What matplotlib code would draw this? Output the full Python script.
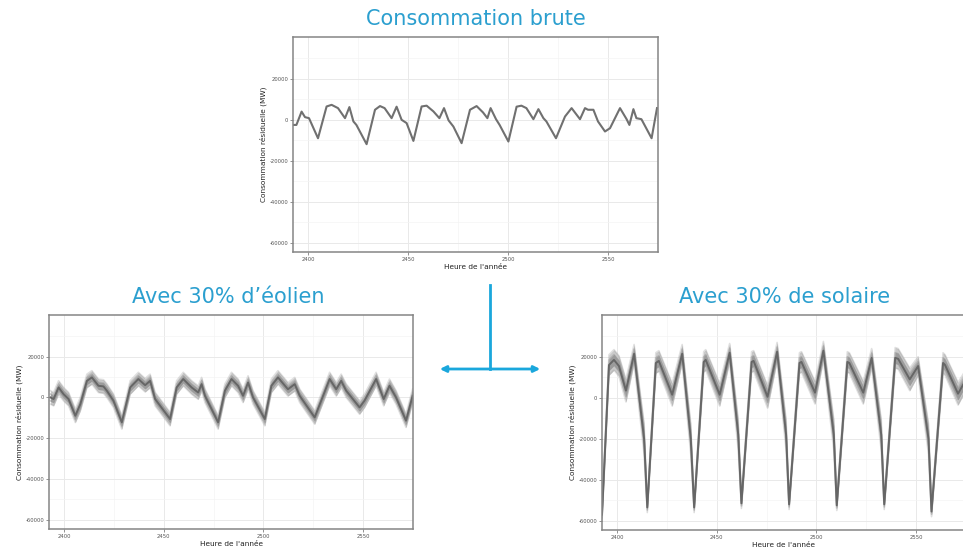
import matplotlib
matplotlib.use("Agg")
import matplotlib.pyplot as plt
import numpy as np
from matplotlib.patches import FancyArrowPatch
from matplotlib.lines import Line2D

# --- data (hour of year, MW) ---
brute_hours = [2392.5, 2394.2, 2396.8, 2398.5, 2400.5, 2405.0, 2409.3, 2411.8, 2415.0, 2418.5,
               2420.7, 2422.7, 2424.2, 2429.3, 2433.5, 2436.0, 2438.3, 2441.8, 2444.3, 2446.8,
               2449.3, 2452.7, 2456.8, 2459.3, 2462.7, 2465.7, 2468.0, 2470.3, 2472.7, 2476.8,
               2481.0, 2484.3, 2487.5, 2489.7, 2491.3, 2494.0, 2495.8, 2500.2, 2504.3, 2506.7,
               2509.2, 2512.7, 2515.2, 2517.7, 2519.2, 2524.0, 2528.5, 2531.8, 2536.0, 2538.5,
               2540.0, 2542.7, 2545.0, 2548.5, 2551.0, 2556.0, 2559.3, 2560.7, 2562.7, 2564.2,
               2566.7, 2571.8, 2574.5]
brute_mw = [-2500, -2500, 4000, 1300, 800, -9000, 6500, 7300, 5700, 800,
            6200, -800, -2500, -11900, 4900, 6700, 5700, 800, 6400, 0,
            -1600, -10300, 6500, 6900, 4100, 800, 5700, -300, -3300, -11400,
            4900, 6700, 3600, 800, 5700, 300, -2500, -10600, 6400, 6900,
            5700, 300, 5200, 800, -800, -9000, 1600, 5700, 300, 5700,
            4900, 4900, -800, -5700, -4100, 5700, 300, -2500, 5200, 800,
            300, -9000, 5700]

wind_hours = [2393.2, 2394.8, 2397.3, 2399.8, 2402.3, 2405.7, 2408.2, 2411.5, 2414.0, 2417.3,
              2419.8, 2421.5, 2424.8, 2429.0, 2433.2, 2437.3, 2440.7, 2443.2, 2445.7, 2453.2,
              2456.5, 2459.8, 2464.0, 2467.3, 2469.0, 2470.7, 2477.3, 2480.7, 2484.0, 2487.3,
              2489.8, 2492.3, 2494.8, 2500.7, 2504.0, 2507.3, 2512.3, 2515.7, 2518.2, 2525.7,
              2533.2, 2536.5, 2539.0, 2541.5, 2548.2, 2550.7, 2556.5, 2560.3, 2563.2, 2566.5,
              2571.5, 2574.8]
wind_mw = [0, -800, 4900, 1600, -800, -9000, -3300, 8100, 9800, 5700,
           5400, 3300, -1600, -12200, 4900, 9000, 6000, 8100, -800, -10600,
           4900, 9000, 4900, 2400, 6500, 800, -12200, 3300, 9000, 5700,
           800, 7300, 0, -10600, 5700, 9800, 4000, 6500, 800, -9800,
           9000, 4000, 8100, 3300, -4900, -1600, 9000, -800, 5700, 0,
           -11400, 800]
wind_spread = 3300

solar_hours = [2392.5, 2396.0, 2398.5, 2401.0, 2404.5, 2408.6, 2413.6, 2415.2, 2419.5, 2421.0,
               2427.7, 2432.7, 2437.0, 2438.7, 2443.5, 2444.5, 2451.5, 2456.5, 2460.8, 2462.4,
               2467.5, 2468.5, 2475.5, 2480.3, 2484.8, 2486.3, 2491.5, 2492.5, 2499.3, 2503.5,
               2508.7, 2510.2, 2515.5, 2516.5, 2523.5, 2527.7, 2532.5, 2534.0, 2539.5, 2541.0,
               2546.8, 2551.0, 2556.2, 2557.7, 2563.5, 2564.5, 2571.0, 2574.5]
solar_mw = [-57000, 16000, 18500, 15500, 3500, 21500, -20000, -53500, 17000, 18000,
            1500, 21500, -20000, -53500, 17500, 18500, 1500, 22000, -18000, -51500,
            17500, 18000, 500, 22500, -18000, -52000, 17000, 17500, 2500, 23000,
            -18000, -52500, 17500, 17000, 2500, 19500, -18000, -52000, 19500, 19000,
            9000, 15500, -20000, -55500, 17000, 16000, 2000, 8000]
solar_spread = [3000, 5000, 5000, 5000, 5500, 4500, 7500, 2500, 5000, 5000,
                5500, 4500, 7500, 2500, 5000, 5000, 5500, 4500, 7500, 2500,
                5000, 5000, 5500, 4500, 7500, 2500, 5000, 5000, 5500, 4500,
                7500, 2500, 5000, 5000, 5500, 4500, 7500, 2500, 5000, 5000,
                5500, 4500, 7500, 2500, 5000, 5000, 5500, 5000]

x_ticks = [2400, 2450, 2500, 2550]
y_ticks = [-60000, -40000, -20000, 0, 20000]
titles = ["Consommation brute", "Avec 30% d\u2019\u00e9olien", "Avec 30% de solaire"]
x_label = "Heure de l'ann\u00e9e"
y_label = "Consommation r\u00e9siduelle (MW)"

TITLE_COLOR = "#2b9fcf"
W, H = 963, 552


def px_rect(left, top, right, bottom):
    return [left / W, 1 - bottom / H, (right - left) / W, (bottom - top) / H]


def style_axes(ax):
    ax.set_xlim(2392.5, 2575)
    ax.set_ylim(-64500, 40400)
    ax.set_xticks(x_ticks)
    ax.set_yticks(y_ticks)
    ax.set_xticks([2425, 2475, 2525, 2575], minor=True)
    ax.set_yticks([-50000, -30000, -10000, 10000, 30000], minor=True)
    ax.set_xticklabels([str(v) for v in x_ticks])
    ax.set_yticklabels([str(v) for v in y_ticks])
    ax.grid(True, which="major", color="#e9e9e9", lw=0.7)
    ax.grid(True, which="minor", color="#f4f4f4", lw=0.5)
    ax.set_axisbelow(True)
    ax.tick_params(which="major", length=2, width=0.5, color="#666666",
                   labelsize=3.8, labelcolor="#555555", pad=1.5)
    ax.tick_params(which="minor", length=0)
    for s in ax.spines.values():
        s.set_color("#858585")
        s.set_linewidth(1.1)
    ax.set_xlabel(x_label, fontsize=5.3, color="#222222", labelpad=1.5)
    ax.set_ylabel(y_label, fontsize=5.3, color="#222222", labelpad=2)


def ribbon(ax, hours, center, spread):
    h = np.asarray(hours)
    c = np.asarray(center, dtype=float)
    s = np.broadcast_to(np.asarray(spread, dtype=float), c.shape)
    ax.fill_between(h, c - s, c + s, color="#cacaca", lw=0)
    ax.fill_between(h, c - 0.55 * s, c + 0.55 * s, color="#9c9c9c", lw=0)
    for k, a in ((-1, 0.3), (1, 0.3), (-0.5, 0.5), (0.5, 0.5)):
        ax.plot(h, c + k * s, color="#9a9a9a", lw=1.2, alpha=a)
    ax.plot(h, c, color="#666666", lw=1.4)


fig = plt.figure(figsize=(W / 100, H / 100), dpi=100)

ax_top = fig.add_axes(px_rect(293, 37, 658, 252))
ax_top.plot(brute_hours, brute_mw, color="#707070", lw=1.5)
style_axes(ax_top)

ax_wind = fig.add_axes(px_rect(49, 315, 413, 529))
ribbon(ax_wind, wind_hours, wind_mw, wind_spread)
style_axes(ax_wind)

ax_sol = fig.add_axes(px_rect(602, 315, 966, 530))
ribbon(ax_sol, solar_hours, solar_mw, solar_spread)
style_axes(ax_sol)

fig.text(476 / W, 1 - 19 / H, titles[0], color=TITLE_COLOR, fontsize=15,
         ha="center", va="center")
fig.text(228 / W, 1 - 297 / H, titles[1], color=TITLE_COLOR, fontsize=15,
         ha="center", va="center")
fig.text(785 / W, 1 - 297 / H, titles[2], color=TITLE_COLOR, fontsize=15,
         ha="center", va="center")

# connector: vertical stem + double-headed horizontal arrow
fig.add_artist(Line2D([490 / W, 490 / W], [1 - 285 / H, 1 - 369 / H],
                      transform=fig.transFigure, color="#1aa7dc", lw=2))
fig.add_artist(FancyArrowPatch((437 / W, 1 - 369 / H), (543 / W, 1 - 369 / H),
                               transform=fig.transFigure, arrowstyle="<|-|>",
                               mutation_scale=9, color="#1aa7dc", lw=2))

fig.savefig("out.png", dpi=100)
